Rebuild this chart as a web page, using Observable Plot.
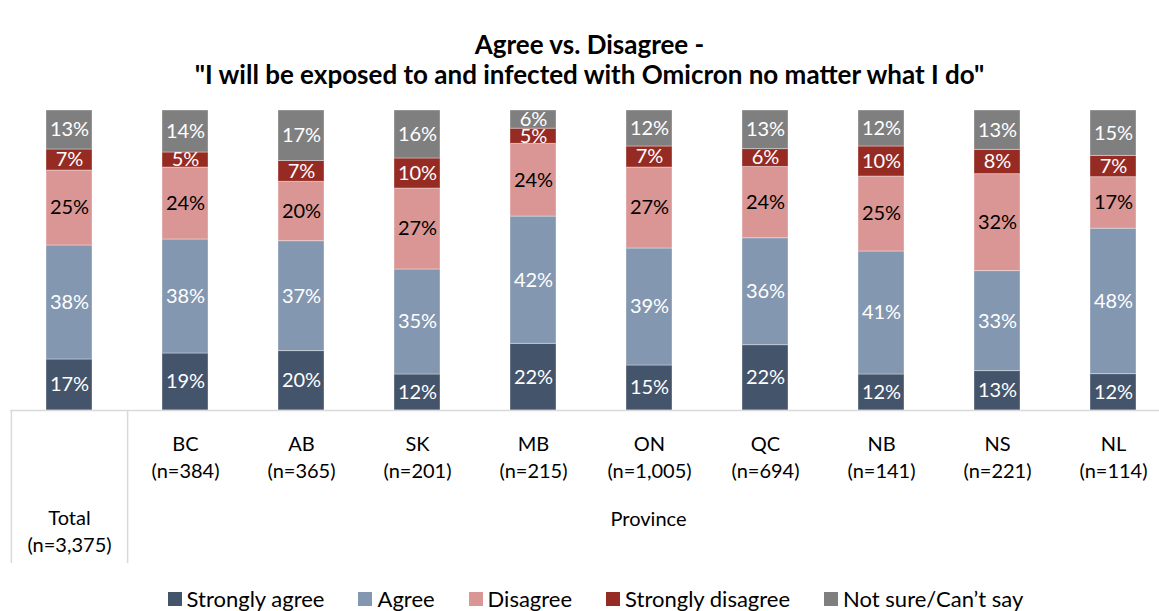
<!DOCTYPE html>
<html><head><meta charset="utf-8">
<script src="https://cdn.jsdelivr.net/npm/d3@7"></script>
<script src="https://cdn.jsdelivr.net/npm/@observablehq/plot@0.6"></script>
<style>
body{margin:0;background:#fff;width:1159px;height:611px;overflow:hidden;position:relative;font-family:Lato,sans-serif;color:#000;}
#title{position:absolute;left:10px;top:29px;width:1159px;text-align:center;font-weight:700;font-size:26px;line-height:30px;}
#chart{position:absolute;left:0;top:95px;}
#legend{position:absolute;left:16px;top:588px;width:1159px;display:flex;justify-content:center;align-items:center;gap:34px;font-size:22px;line-height:22px;}
.item{display:flex;align-items:center;gap:5px}
.sw{width:14px;height:14px;display:inline-block}
</style></head><body>
<div id="title">Agree vs. Disagree -<br>"I will be exposed to and infected with Omicron no matter what I do"</div>
<div id="chart"></div>
<div id="legend"></div>
<script>
const categories = ["Total","BC","AB","SK","MB","ON","QC","NB","NS","NL"];
const sampleSizes = ["3,375","384","365","201","215","1,005","694","141","221","114"];
const groupLabel = "Province";
const responses = ["Strongly agree","Agree","Disagree","Strongly disagree","Not sure/Can\u2019t say"];
const stronglyAgree    = [17,19,20,12,22,15,22,12,13,12];
const agree            = [38,38,37,35,42,39,36,41,33,48];
const disagree         = [25,24,20,27,24,27,24,25,32,17];
const stronglyDisagree = [ 7, 5, 7,10, 5, 7, 6,10, 8, 7];
const notSure          = [13,14,17,16, 6,12,13,12,13,15];
const colors = ["#44546A","#8497B0","#DA9694","#962B23","#7F7F7F"];

const series = [stronglyAgree, agree, disagree, stronglyDisagree, notSure];
const rows = [];
categories.forEach((c, i) => {
  responses.forEach((r, j) => rows.push({category: c, response: r, value: series[j][i]}));
});
const stackOpts = {offset: "normalize", x: "category", y: "value", z: "response"};
const label = d => `${d}\n(n=${sampleSizes[categories.indexOf(d)]})`;

const chart = Plot.plot({
  width: 1159, height: 470,
  marginLeft: 10, marginRight: 0, marginTop: 15, marginBottom: 155,
  style: {fontFamily: "Lato, sans-serif", fontSize: "20px", overflow: "visible", background: "transparent", color: "#000"},
  x: {domain: categories, range: [10, 1172], paddingInner: 0.6, paddingOuter: 0.3, label: null},
  y: {domain: [0, 1], axis: null},
  color: {domain: responses, range: colors},
  marks: [
    Plot.barY(rows, Plot.stackY({...stackOpts, fill: "response", stroke: "#fff", strokeOpacity: 0.35, strokeWidth: 1})),
    Plot.text(rows, Plot.filter(d => d.response !== "Disagree", Plot.stackY({...stackOpts, text: d => d.value + "%", fill: "white", fontSize: 20}))),
    Plot.text(rows, Plot.filter(d => d.response === "Disagree", Plot.stackY({...stackOpts, text: d => d.value + "%", fill: "black", fontSize: 20}))),
    Plot.ruleY([0], {stroke: "#d9d9d9", strokeWidth: 1.5}),
    Plot.ruleX(["Total"], {dx: -58.1, insetTop: 300, insetBottom: -153, stroke: "#d9d9d9", strokeWidth: 1.5}),
    Plot.ruleX(["Total"], {dx: 58.1, insetTop: 300, insetBottom: -153, stroke: "#d9d9d9", strokeWidth: 1.5}),
    Plot.axisX(categories.slice(1), {tickSize: 0, tickPadding: 21, tickFormat: label, fontSize: 20, lineHeight: 1.35, label: null}),
    Plot.axisX(categories.slice(0, 1), {tickSize: 0, tickPadding: 95, tickFormat: label, fontSize: 20, lineHeight: 1.35, label: null}),
    Plot.text([groupLabel], {x: () => "ON", frameAnchor: "bottom", dy: 101, dx: -1, lineAnchor: "top", fontSize: 20, fill: "black"})
  ]
});
document.getElementById("chart").appendChild(chart);

const legend = document.getElementById("legend");
responses.forEach((r, j) => {
  const item = document.createElement("div");
  item.className = "item";
  const sw = document.createElement("span");
  sw.className = "sw";
  sw.style.background = colors[j];
  const t = document.createElement("span");
  t.textContent = r;
  item.appendChild(sw); item.appendChild(t);
  legend.appendChild(item);
});
</script></body></html>
